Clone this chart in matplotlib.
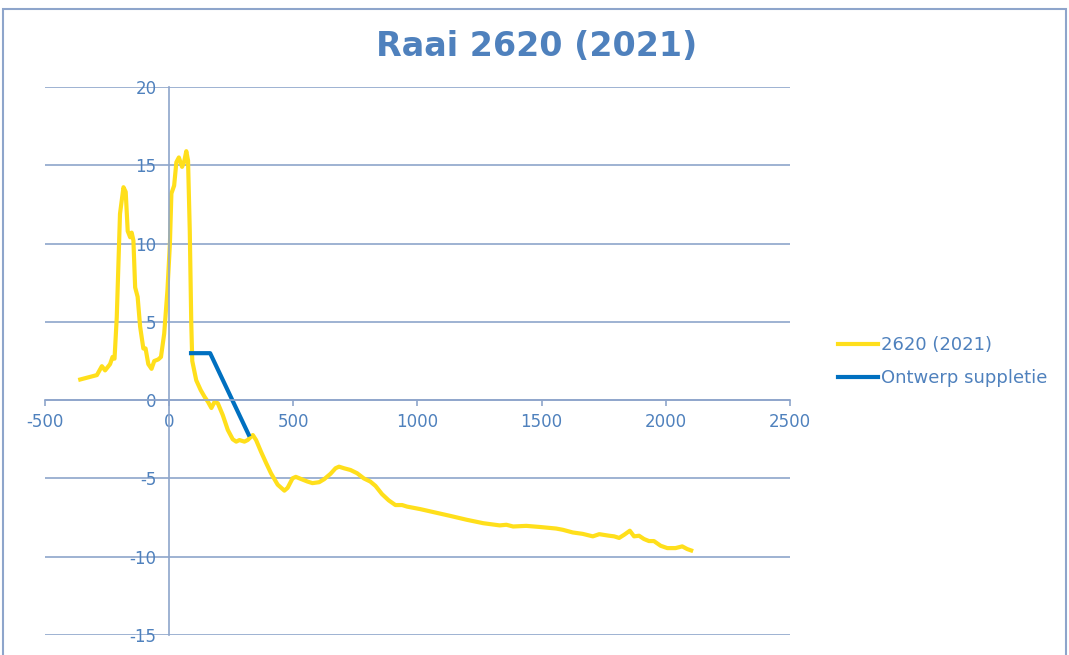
### Cross-shore profile plot for raai 2620 (2021) with the design nourishment

import matplotlib.pyplot as plt
from matplotlib.patches import Rectangle

# Measured profile (distance [m], height [m])
profiel_x = [-358, -291, -271, -258, -238, -228, -220, -211, -198, -184, -175, -167,
             -157, -151, -144, -137, -127, -117, -104, -95, -84, -71, -60, -44, -33,
             -20, -7, 3, 9, 20, 29, 39, 52, 60, 69, 76, 83, 89, 93, 109, 127, 143,
             156, 170, 183, 196, 216, 236, 256, 270, 283, 303, 316, 337, 350, 370,
             390, 410, 437, 464, 477, 497, 510, 530, 557, 577, 604, 624, 650, 670,
             684, 704, 730, 757, 784, 810, 831, 857, 884, 911, 938, 958, 1011, 1064,
             1131, 1198, 1265, 1331, 1358, 1385, 1438, 1492, 1558, 1585, 1625, 1665,
             1706, 1732, 1772, 1792, 1812, 1832, 1855, 1872, 1892, 1912, 1932, 1952,
             1979, 2006, 2039, 2066, 2086, 2102]
profiel_z = [1.32, 1.6, 2.17, 1.9, 2.3, 2.76, 2.65, 5.3, 11.9, 13.6, 13.3, 10.8,
             10.4, 10.7, 10.2, 7.2, 6.6, 4.7, 3.3, 3.3, 2.3, 2.0, 2.5, 2.6, 2.76,
             4.25, 7.0, 10.0, 13.2, 13.7, 15.2, 15.5, 14.9, 15.2, 15.9, 15.3, 10.8,
             4.9, 2.5, 1.27, 0.64, 0.2, -0.1, -0.5, -0.1, -0.2, -0.96, -1.9, -2.5,
             -2.65, -2.55, -2.65, -2.55, -2.23, -2.55, -3.3, -4.0, -4.67, -5.4,
             -5.78, -5.6, -4.99, -4.9, -5.03, -5.2, -5.3, -5.24, -5.05, -4.7, -4.35,
             -4.25, -4.35, -4.46, -4.67, -5.0, -5.2, -5.48, -6.0, -6.4, -6.7, -6.7,
             -6.8, -6.96, -7.15, -7.39, -7.64, -7.86, -8.0, -7.96, -8.07, -8.03,
             -8.1, -8.2, -8.28, -8.45, -8.54, -8.7, -8.56, -8.66, -8.7, -8.8, -8.6,
             -8.34, -8.7, -8.66, -8.87, -9.0, -9.0, -9.3, -9.45, -9.45, -9.34, -9.51,
             -9.6]

# Design nourishment
ontwerp_x = [88, 165, 320]
ontwerp_z = [3.0, 3.0, -2.2]

xticks = [-500, 0, 500, 1000, 1500, 2000, 2500]
yticks = [-15, -10, -5, 0, 5, 10, 15, 20]

blauw = '#4F81BD'
raster = '#8EA5CB'

plt.rcParams['axes.unicode_minus'] = False

fig = plt.figure(figsize=(10.69, 6.55), dpi=100)
ax = fig.add_axes([45/1069, 1-635/655, (790-45)/1069, (635-87)/655])

ax.plot(profiel_x, profiel_z, color='#FFDF1B', lw=3, label='2620 (2021)', solid_joinstyle='round')
ax.plot(ontwerp_x, ontwerp_z, color='#0070C0', lw=3, label='Ontwerp suppletie')

ax.set_xlim(-500, 2500)
ax.set_ylim(-15, 20)
ax.set_xticks(xticks)
ax.set_yticks(yticks)

# Axes crossing at the origin, like Excel
for s in ['top', 'right']:
    ax.spines[s].set_visible(False)
ax.spines['left'].set_position(('data', 0))
ax.spines['bottom'].set_position(('data', 0))
for s in ['left', 'bottom']:
    ax.spines[s].set_color(raster)
    ax.spines[s].set_linewidth(1.2)

ax.grid(axis='y', color=raster, lw=1.2)
ax.set_axisbelow(True)
ax.tick_params(axis='x', colors=raster, labelcolor=blauw, labelsize=12, length=4, width=1.2, pad=5)
ax.tick_params(axis='y', colors=raster, labelcolor=blauw, labelsize=12, length=0, pad=9)

fig.suptitle('Raai 2620 (2021)', x=0.502, y=1-47/655, va='center', fontsize=24,
             fontweight='bold', color=blauw)

leg = fig.legend(loc='center left', bbox_to_anchor=(838/1069, 1-361.5/655), frameon=False,
                 fontsize=13, handlelength=2.2, handletextpad=0.2, labelspacing=0.85,
                 borderpad=0, borderaxespad=0)
for t in leg.get_texts():
    t.set_color(blauw)

# Chart border
fig.patches.append(Rectangle((3/1069, -0.1), 1063/1069, 1.1-9/655, transform=fig.transFigure,
                             fill=False, ec=raster, lw=1.5))

fig.savefig('out.png', dpi=100)
